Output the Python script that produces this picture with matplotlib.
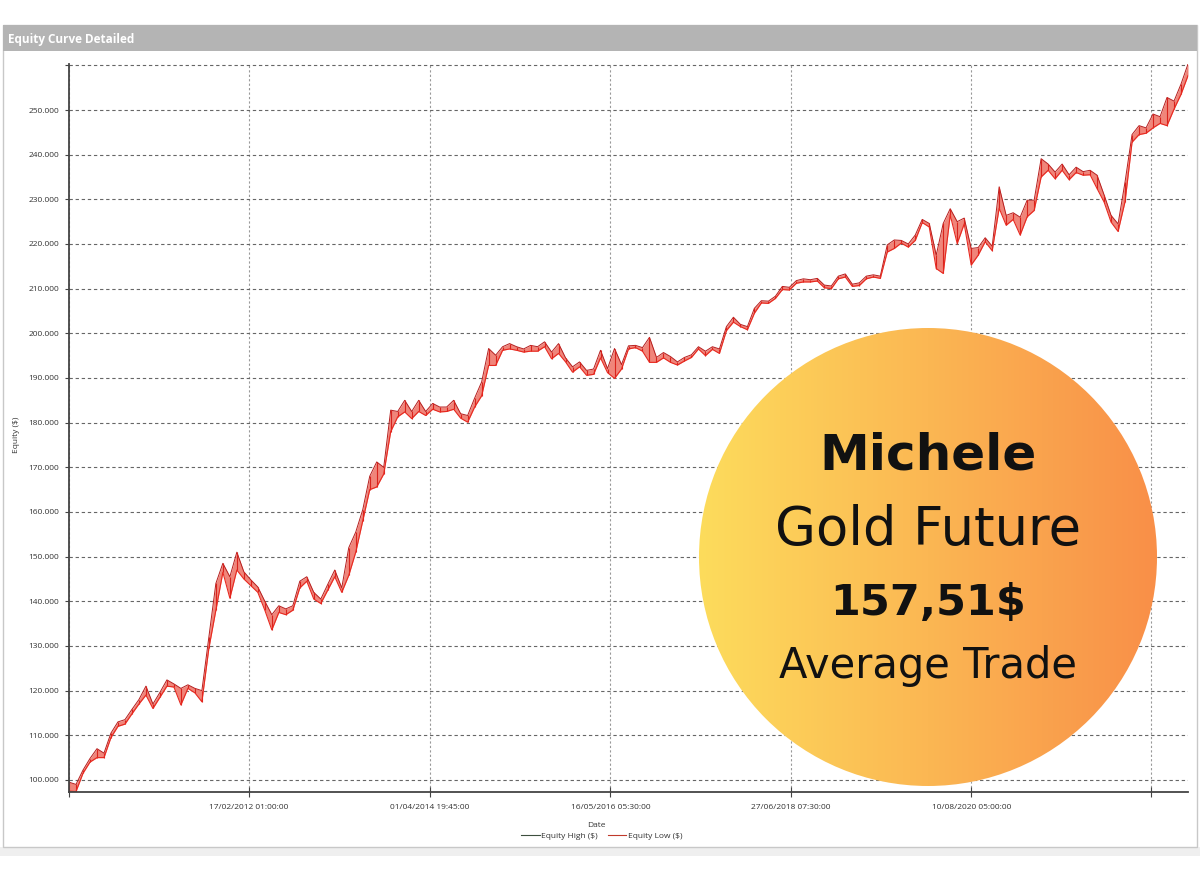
import numpy as np
import pandas as pd
import matplotlib
matplotlib.use("Agg")
import matplotlib.pyplot as plt
from matplotlib.patches import Rectangle, Circle
from matplotlib.lines import Line2D
from matplotlib.colors import LinearSegmentedColormap

plt.rcParams['font.family'] = ['Open Sans', 'DejaVu Sans']

# equity, in thousands of $
equity_high = [
    99.5, 99.0, 102.2, 104.8, 107.0, 106.0, 110.5, 113.0, 113.5, 115.8,
    118.0, 121.0, 117.0, 119.6, 122.4, 121.5, 120.5, 121.3, 120.5, 120.0,
    132.0, 144.0, 148.5, 145.5, 151.0, 146.6, 144.8, 143.2, 140.0, 137.0,
    139.0, 138.3, 139.0, 144.5, 145.5, 142.0, 140.5, 143.8, 147.0, 143.0,
    152.0, 155.5, 160.5, 168.0, 171.2, 170.0, 182.8, 182.5, 185.0, 182.5,
    185.0, 182.5, 184.3, 183.5, 183.5, 185.0, 182.0, 181.6, 185.5, 189.1,
    196.6, 195.1, 197.0, 197.7, 197.0, 196.5, 197.3, 197.0, 198.1, 195.8,
    197.7, 194.5, 192.5, 193.6, 191.7, 192.0, 196.2, 192.1, 196.6, 193.0,
    197.2, 197.3, 196.8, 199.1, 194.6, 195.7, 194.8, 193.6, 194.6, 195.2,
    197.0, 196.0, 197.0, 196.5, 201.5, 203.6, 202.0, 201.5, 205.6, 207.3,
    207.2, 208.3, 210.5, 210.3, 211.8, 212.2, 212.0, 212.3, 210.8, 210.6,
    212.8, 213.3, 211.0, 211.3, 212.8, 213.1, 212.8, 219.8, 220.9, 220.8,
    220.0, 222.0, 225.5, 224.6, 217.5, 224.6, 227.9, 225.0, 225.8, 219.0,
    219.2, 221.4, 219.5, 232.8, 226.4, 227.0, 226.0, 229.8, 229.8, 239.1,
    237.9, 236.1, 237.9, 235.5, 237.2, 236.2, 236.5, 235.4, 231.0, 226.4,
    224.5, 233.9, 244.5, 246.5, 246.0, 249.1, 248.5, 252.8, 252.0, 255.8,
    260.3,
]
equity_low = [
    97.5, 97.4, 101.5, 104.0, 105.0, 105.0, 109.5, 112.0, 112.5, 114.8,
    117.0, 119.0, 116.0, 118.5, 121.0, 120.8, 116.8, 120.5, 119.5, 117.5,
    129.5, 138.0, 146.5, 140.7, 147.0, 145.0, 143.5, 142.0, 138.0, 133.6,
    137.5, 137.0, 138.0, 143.0, 144.5, 140.5, 139.5, 142.5, 145.5, 142.0,
    145.8, 151.0, 158.0, 165.0, 165.6, 168.5, 178.0, 181.3, 182.4, 180.9,
    182.5, 181.6, 183.0, 182.4, 182.5, 183.0, 181.0, 180.1, 183.5, 186.0,
    192.8, 192.8, 196.2, 196.5, 196.2, 195.8, 196.0, 196.0, 197.0, 194.3,
    195.5, 193.6, 191.3, 192.5, 190.6, 190.8, 194.5, 191.2, 189.9, 192.0,
    196.5, 196.8, 196.0, 193.5, 193.5, 194.5, 193.5, 192.9, 193.8, 194.6,
    196.5, 195.0, 196.4, 195.5, 200.6, 202.5, 201.5, 200.8, 204.5, 206.8,
    206.7, 207.8, 209.8, 209.7, 211.2, 211.5, 211.5, 211.7, 210.2, 210.0,
    212.2, 212.6, 210.5, 210.7, 212.2, 212.6, 212.3, 218.2, 219.0, 220.2,
    219.3, 220.8, 224.8, 223.8, 214.5, 213.4, 226.5, 220.1, 224.5, 215.3,
    217.5, 220.5, 218.5, 228.0, 224.2, 225.5, 222.0, 226.1, 227.5, 235.0,
    236.5, 234.6, 236.5, 234.4, 236.0, 235.4, 235.5, 232.4, 229.4, 224.9,
    222.8, 229.5, 242.8, 244.5, 244.8, 246.0, 247.0, 246.5, 250.2, 253.5,
    257.7,
]
start_date = '2010-01-06'
end_date = '2023-02-26'

tick_dates = ['2010-01-06 00:00', '2012-02-17 01:00', '2014-04-01 19:45',
              '2016-05-16 05:30', '2018-06-27 07:30', '2020-08-10 05:00',
              '2022-09-22 00:00']
tick_labels = ['', '17/02/2012 01:00:00', '01/04/2014 19:45:00',
               '16/05/2016 05:30:00', '27/06/2018 07:30:00',
               '10/08/2020 05:00:00', '']
y_ticks = list(range(100000, 270000, 10000))

badge_lines = ['Michele', 'Gold Future', '157,51$', 'Average Trade']

dates = pd.date_range(start_date, end_date, periods=len(equity_high))
high = np.array(equity_high) * 1000
low = np.array(equity_low) * 1000

W, H = 1200, 880
fig = plt.figure(figsize=(12, 8.8), dpi=100)
fig.patch.set_facecolor('white')

# background window frame (pixel coords)
bg = fig.add_axes([0, 0, 1, 1])
bg.set_xlim(0, W)
bg.set_ylim(H, 0)
bg.axis('off')
bg.add_patch(Rectangle((0, 847), W, 9, facecolor='#efefef', edgecolor='none'))
bg.add_patch(Rectangle((3, 25), 1194, 822, facecolor='white', edgecolor='#c8c8c8', lw=1))
bg.add_patch(Rectangle((3, 25), 1194, 26, facecolor='#b4b4b4', edgecolor='none'))
bg.text(8, 39, 'Equity Curve Detailed', color='white', fontsize=8.5,
        fontweight='bold', va='center', ha='left')

# main chart: band between equity low and high
ax = fig.add_axes([69 / W, 1 - 792 / H, 1119 / W, 728 / H])
ax.fill_between(dates, low, high, color='#f0857a', lw=0)
ax.plot(dates, high, color='#b51d1d', lw=0.7)
ax.vlines(dates, low, high, color='#d9231d', lw=0.8)
ax.plot(dates, low, color='#e8281f', lw=0.8)

ax.set_xlim(pd.Timestamp(start_date), pd.Timestamp(end_date))
ax.set_ylim(97300, 260300)
ax.set_xticks(pd.to_datetime(tick_dates))
ax.set_xticklabels(tick_labels)
ax.set_yticks(y_ticks)
ax.set_yticklabels([f"{v:,.0f}".replace(',', '.') if v < 260000 else '' for v in y_ticks])

ax.grid(axis='y', color='#666666', lw=0.8, linestyle=(0, (3, 2.5)))
ax.grid(axis='x', color='#999999', lw=0.8, linestyle=(0, (2, 2)))
ax.set_axisbelow(True)
for s in ['top', 'right']:
    ax.spines[s].set_visible(False)
for s in ['left', 'bottom']:
    ax.spines[s].set_color('#444444')
    ax.spines[s].set_linewidth(1.3)
ax.tick_params(axis='y', direction='out', length=3, width=0.8, color='#444444',
               labelsize=6, labelcolor='#333333', pad=4)
ax.tick_params(axis='x', direction='inout', length=7, width=0.8, color='#444444',
               labelsize=6, labelcolor='#333333', pad=5)

ax.set_xlabel('Date', fontsize=6, color='#333333')
ax.xaxis.set_label_coords(0.471, -0.041)
ax.set_ylabel('Equity ($)', fontsize=6, color='#333333')
ax.yaxis.set_label_coords(-0.0438, 0.49)

handles = [Line2D([], [], color='#3d4f3f', lw=0.8, label='Equity High ($)'),
           Line2D([], [], color='#c0392b', lw=0.8, label='Equity Low ($)')]
fig.legend(handles=handles, loc='center', bbox_to_anchor=(602 / W, 1 - 836 / H),
           ncol=2, fontsize=6, frameon=False, handlelength=2.2, handletextpad=0.2,
           columnspacing=1.2, labelcolor='#333333')

# orange badge on top
ov = fig.add_axes([0, 0, 1, 1])
ov.set_xlim(0, W)
ov.set_ylim(H, 0)
ov.axis('off')
ov.patch.set_alpha(0)
cx, cy, r = 928, 557, 229
cmap = LinearSegmentedColormap.from_list('badge', ['#fddc5c', '#fbb753', '#f98f48'])
grad = np.linspace(0, 1, 256).reshape(1, -1)
img = ov.imshow(grad, cmap=cmap, extent=(cx - r, cx + r, cy + r, cy - r), aspect='auto')
circ = Circle((cx, cy), r, transform=ov.transData, facecolor='none', edgecolor='none')
ov.add_patch(circ)
img.set_clip_path(circ)
ov.set_xlim(0, W)
ov.set_ylim(H, 0)

badge_font = ['DejaVu Sans']
ov.text(cx, 456, badge_lines[0], ha='center', va='center', fontsize=36,
        fontweight='bold', color='#111111', family=badge_font)
ov.text(cx, 530, badge_lines[1], ha='center', va='center', fontsize=38,
        color='#111111', family=badge_font)
ov.text(cx, 603, badge_lines[2], ha='center', va='center', fontsize=31,
        fontweight='bold', color='#111111', family=badge_font)
ov.text(cx, 666, badge_lines[3], ha='center', va='center', fontsize=30,
        color='#111111', family=badge_font)

fig.savefig('out.png', dpi=100)
